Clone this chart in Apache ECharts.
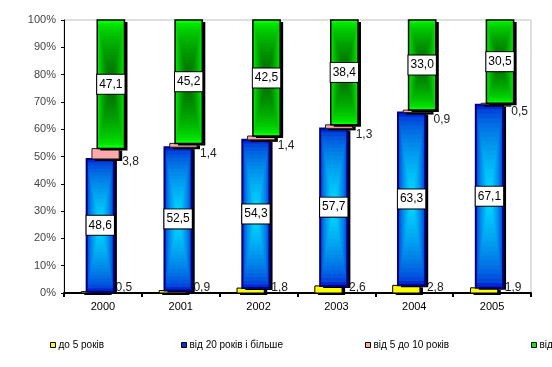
<!DOCTYPE html>
<html>
<head>
<meta charset="utf-8">
<script src="https://cdn.jsdelivr.net/npm/echarts@6/dist/echarts.min.js"></script>
<style>
html,body{margin:0;padding:0;background:#fff;}
#chart{width:552px;height:367px;}
</style>
</head>
<body>
<div id="chart"></div>
<script>
const categories = ['2000', '2001', '2002', '2003', '2004', '2005'];
const seriesNames = ['до 5 років', 'від 20 років і більше', 'від 5 до 10 років', 'від 10 до 20 років'];
const under5 = [0.5, 0.9, 1.8, 2.6, 2.8, 1.9];
const over20 = [48.6, 52.5, 54.3, 57.7, 63.3, 67.1];
const from5to10 = [3.8, 1.4, 1.4, 1.3, 0.9, 0.5];
const from10to20 = [47.1, 45.2, 42.5, 38.4, 33.0, 30.5];
const yTicks = [0, 10, 20, 30, 40, 50, 60, 70, 80, 90, 100];

const seriesValues = [under5, over20, from5to10, from10to20];
const legendColors = ['#ffff00', '#0033cc', '#ffaaaa', '#00ee00'];
const styles = [
  {solid: '#ffff00', border: '#000000', bw: 1},
  {edge: [0, 40, 210], center: [0, 220, 255], border: '#000080', bw: 2},
  {solid: '#ffaaaa', border: '#202020', bw: 1},
  {edge: [0, 255, 0], center: [0, 105, 0], border: '#000000', bw: 1.5}
];

function fmt(v) { return v.toFixed(1).replace('.', ','); }
function lerp(a, b, t) {
  return 'rgb(' + a.map((c, j) => Math.round(c + (b[j] - c) * t)).join(',') + ')';
}

// cumulative bases
const bases = seriesValues.map(() => []);
categories.forEach((c, i) => {
  let acc = 0;
  seriesValues.forEach((arr, s) => { bases[s][i] = acc; acc += arr[i]; });
});

function makeRender(s) {
  return function (params, api) {
    const i = api.value(0);
    const lo = api.value(1), hi = api.value(2), val = api.value(3);
    const p0 = api.coord([i, lo]);
    const p1 = api.coord([i, hi]);
    const cw = api.size([1, 0])[0];
    const bw = cw * 0.35;
    const cx = p0[0] + (s - 1.5) * cw * 0.068;
    const x = cx - bw / 2, y = p1[1], h = Math.max(p0[1] - p1[1], 1);
    const st = styles[s];
    const children = [];
    children.push({type: 'rect', shape: {x: x + 3, y: y + 2, width: bw, height: h}, style: {fill: '#000'}});
    if (st.solid) {
      children.push({type: 'rect', shape: {x: x, y: y, width: bw, height: h}, style: {fill: st.solid}});
    } else {
      const N = 20;
      for (let k = 0; k < N; k++) {
        const t = k / N;
        children.push({
          type: 'rect',
          shape: {x: x + t * bw / 2, y: y + t * h / 2, width: bw * (1 - t), height: h * (1 - t)},
          style: {fill: lerp(st.edge, st.center, Math.pow(k / (N - 1), 0.6))}
        });
      }
    }
    children.push({type: 'rect', shape: {x: x, y: y, width: bw, height: h},
      style: {fill: null, stroke: st.border, lineWidth: st.bw}});
    const font = '12px "Liberation Sans", Arial, sans-serif';
    if (s === 1 || s === 3) {
      children.push({type: 'text', style: {
        text: fmt(val), x: cx, y: y + h / 2, align: 'center', verticalAlign: 'middle',
        font: font, fill: '#000', backgroundColor: '#fff', borderColor: '#000', borderWidth: 1,
        padding: [4, 2, 3, 2]
      }, z2: 10});
    } else if (s === 0) {
      children.push({type: 'text', style: {
        text: fmt(val), x: x + bw + 7, y: p0[1] - 5, align: 'left', verticalAlign: 'middle',
        font: font, fill: '#222'
      }, z2: 10});
    } else {
      children.push({type: 'text', style: {
        text: fmt(val), x: x + bw + 3, y: y + h / 2 + 8, align: 'left', verticalAlign: 'middle',
        font: font, fill: '#222'
      }, z2: 10});
    }
    return {type: 'group', children: children};
  };
}

const series = seriesNames.map((name, s) => ({
  type: 'custom',
  name: name,
  renderItem: makeRender(s),
  itemStyle: {color: legendColors[s]},
  encode: {x: 0, y: [1, 2]},
  data: categories.map((c, i) => [i, bases[s][i], bases[s][i] + seriesValues[s][i], seriesValues[s][i]]),
  z: 2 + s
}));

const legendLefts = [45, 176, 360, 526];
const legends = seriesNames.map((name, s) => ({
  data: [name],
  left: legendLefts[s],
  top: 335,
  icon: 'rect',
  itemWidth: 5,
  itemHeight: 5,
  itemStyle: {borderColor: '#000', borderWidth: 1},
  textStyle: {fontSize: 10, fontFamily: '"Liberation Sans", Arial, sans-serif', color: '#000', padding: [0, 0, 0, -2]},
  selectedMode: false
}));

const chart = echarts.init(document.getElementById('chart'), null, {renderer: 'canvas'});
chart.setOption({
  animation: false,
  backgroundColor: '#fff',
  grid: {left: 64, right: 21, top: 20, bottom: 74, show: true, borderColor: '#c0c0c0', borderWidth: 1},
  legend: legends,
  xAxis: {
    type: 'category',
    data: categories,
    axisLine: {lineStyle: {color: '#000', width: 2}},
    axisTick: {show: true, alignWithLabel: false, length: 4, lineStyle: {color: '#000', width: 2}},
    axisLabel: {fontSize: 11, fontFamily: '"Liberation Sans", Arial, sans-serif', color: '#000', margin: 8},
    splitLine: {show: false}
  },
  yAxis: {
    type: 'value',
    min: yTicks[0],
    max: yTicks[yTicks.length - 1],
    interval: yTicks[1] - yTicks[0],
    axisLine: {show: true, lineStyle: {color: '#000', width: 1}},
    axisTick: {show: true, length: 3, lineStyle: {color: '#000'}},
    axisLabel: {formatter: '{value}%', fontSize: 11, fontFamily: '"Liberation Sans", Arial, sans-serif', color: '#444', margin: 8},
    splitLine: {show: false}
  },
  series: series
});
</script>
</body>
</html>
